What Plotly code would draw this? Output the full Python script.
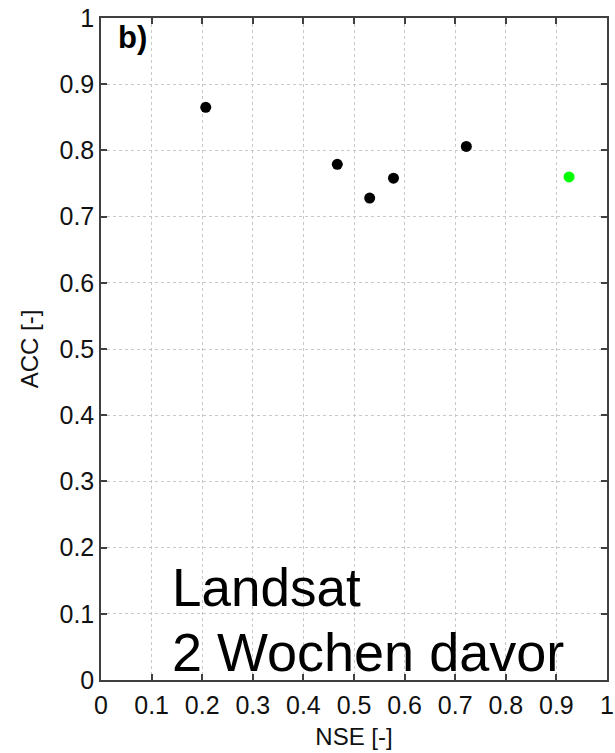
import plotly.graph_objects as go

# NSE / ACC scores of the compared runs
nse_runs = [0.207, 0.467, 0.531, 0.578, 0.722]
acc_runs = [0.865, 0.779, 0.728, 0.758, 0.806]

# highlighted run
nse_best = [0.925]
acc_best = [0.760]

tick_vals = [0, 0.1, 0.2, 0.3, 0.4, 0.5, 0.6, 0.7, 0.8, 0.9, 1]
tick_text = ["0", "0.1", "0.2", "0.3", "0.4", "0.5", "0.6", "0.7", "0.8", "0.9", "1"]

FONT = "Liberation Sans, Arial, sans-serif"
AXIS_COLOR = "#404040"
GRID_COLOR = "#c8c8c8"

fig = go.Figure()
fig.add_trace(go.Scatter(
    x=nse_runs, y=acc_runs, mode="markers",
    marker=dict(color="black", size=11, line=dict(width=0)),
    showlegend=False,
))
fig.add_trace(go.Scatter(
    x=nse_best, y=acc_best, mode="markers",
    marker=dict(color="#00ff00", size=11, line=dict(width=0)),
    showlegend=False,
))

axis_common = dict(
    range=[0, 1],
    tickvals=tick_vals,
    ticktext=tick_text,
    showgrid=True,
    gridcolor=GRID_COLOR,
    griddash="dot",
    gridwidth=1,
    showline=True,
    linecolor=AXIS_COLOR,
    linewidth=1.5,
    mirror="ticks",
    ticks="inside",
    ticklen=6,
    tickwidth=1.5,
    tickcolor=AXIS_COLOR,
    zeroline=False,
    tickfont=dict(family=FONT, size=25, color="#111111"),
    ticklabeloverflow="allow",
    automargin=False,
    fixedrange=True,
)

fig.update_xaxes(
    **axis_common,
    ticklabelstandoff=2,
    title=dict(text="NSE [-]", font=dict(family=FONT, size=24, color="#111111"), standoff=10),
)
fig.update_yaxes(
    **axis_common,
    ticklabelstandoff=0,
    title=dict(text="ACC [-]", font=dict(family=FONT, size=24, color="#111111"), standoff=14),
)

fig.add_annotation(
    text="<b>b)</b>", xref="paper", yref="paper", x=0.03, y=1.0,
    xanchor="left", yanchor="top", showarrow=False,
    font=dict(family=FONT, size=31, color="black"),
)
fig.add_annotation(
    text="Landsat", xref="paper", yref="paper", x=0.136, y=0.139,
    xanchor="left", yanchor="middle", showarrow=False,
    font=dict(family=FONT, size=53, color="black"),
)
fig.add_annotation(
    text="2 Wochen davor", xref="paper", yref="paper", x=0.136, y=0.043,
    xanchor="left", yanchor="middle", showarrow=False,
    font=dict(family=FONT, size=54, color="black"),
)

fig.update_layout(
    width=615, height=753,
    margin=dict(l=101, r=8, t=18, b=73, autoexpand=False),
    plot_bgcolor="white",
    paper_bgcolor="white",
    font=dict(family=FONT),
)

fig.write_html("out.html")
